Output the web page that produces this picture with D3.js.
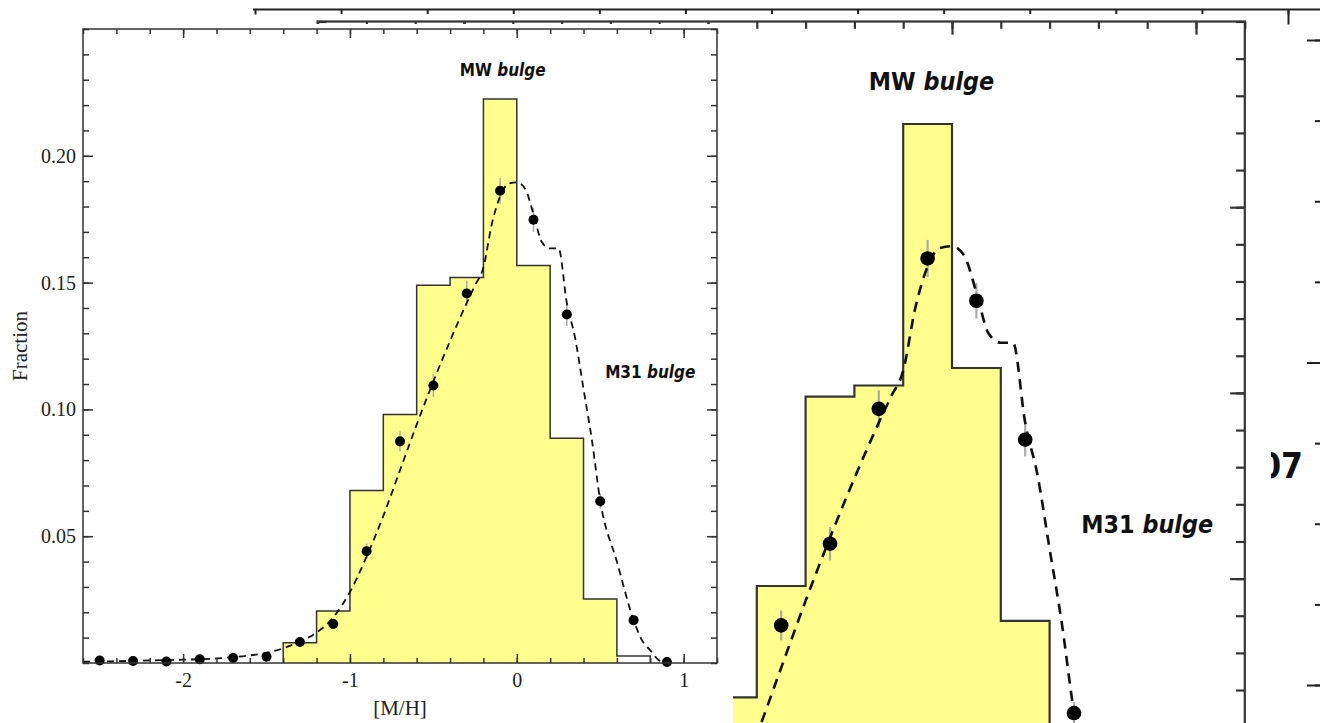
<!DOCTYPE html>
<html><head><meta charset="utf-8">
<script src="https://cdn.jsdelivr.net/npm/d3@7/dist/d3.min.js"></script>
<style>
html,body{margin:0;padding:0;background:#fff;}
svg{display:block;}
.tick text{font-family:"Liberation Serif","Times New Roman",serif;fill:#222;}
</style></head>
<body>
<svg id="chart" width="1320" height="723"></svg>
<script>
// ---------------- data ----------------
const binStarts    = [-1.4, -1.2, -1.0, -0.8, -0.6, -0.4, -0.2, 0.0, 0.2, 0.4, 0.6];
const binFractions = [0.008, 0.0205, 0.068, 0.098, 0.149, 0.152, 0.2224, 0.1567, 0.0886, 0.0252, 0.0028];
const binWidth = 0.2;

const pointMH       = [-2.5, -2.3, -2.1, -1.9, -1.7, -1.5, -1.3, -1.1, -0.9, -0.7, -0.5, -0.3, -0.1, 0.1, 0.3, 0.5, 0.7, 0.9];
const pointFraction = [0.001, 0.0008, 0.0006, 0.0015, 0.002, 0.0025, 0.0083, 0.0154, 0.0441, 0.0874, 0.1094, 0.1457, 0.1862, 0.1748, 0.1374, 0.0638, 0.0169, 0.0004];
const pointError    = [0.0005, 0.0005, 0.0005, 0.001, 0.001, 0.001, 0.0015, 0.002, 0.003, 0.004, 0.0045, 0.005, 0.005, 0.0048, 0.0045, 0.003, 0.002, 0.001];

const modelMH       = [-2.6, -2.4, -2.2, -2.0, -1.8, -1.6, -1.5, -1.4, -1.3, -1.2, -1.1, -1.0, -0.9, -0.8, -0.7, -0.6, -0.5, -0.4, -0.3, -0.25, -0.2, -0.15, -0.1, -0.05, 0.0, 0.05, 0.1, 0.15, 0.2, 0.25, 0.3, 0.35, 0.4, 0.45, 0.5, 0.6, 0.7, 0.75, 0.8, 0.85, 0.9];
const modelFraction = [0.0005, 0.0007, 0.001, 0.0013, 0.0018, 0.003, 0.004, 0.0058, 0.0085, 0.012, 0.018, 0.028, 0.042, 0.058, 0.076, 0.094, 0.111, 0.127, 0.142, 0.149, 0.156, 0.173, 0.184, 0.189, 0.1895, 0.187, 0.177, 0.166, 0.1635, 0.1635, 0.142, 0.128, 0.108, 0.088, 0.064, 0.04, 0.017, 0.009, 0.005, 0.0012, 0.0];

const xMajorTicks  = [-2, -1, 0, 1];
const xTickLabels  = ["-2", "-1", "0", "1"];
const yMajorTicks  = [0.05, 0.10, 0.15, 0.20];
const yTickLabels  = ["0.05", "0.10", "0.15", "0.20"];
const xDomain = [-2.6, 1.2];
const yDomain = [0, 0.25];

const labelMW  = "MW bulge";
const labelM31 = "M31 bulge";
const xTitle = "[M/H]";
const yTitle = "Fraction";
const ghostText = "07";

// ghost (partly hidden) panel behind
const ghostTopTicks   = [0,1,2,3,4,5,6,7,8,9,10,11,12];
const ghostTopMajor   = [12];
const ghostRightTicks = [0,1,2,3,4,5,6,7,8];
const ghostRightMajor = [0,4,8];

// --------------- drawing ---------------
const svg = d3.select("#chart");
const xMinor = d3.range(-2.6, 1.2001, 0.2).map(v => +v.toFixed(2));
const yMinor = d3.range(0, 0.2501, 0.01).map(v => +v.toFixed(3));

// ghost panel
{
  const gx = d3.scaleLinear().domain([0, 12]).range([255, 1288]);
  const gy = d3.scaleLinear().domain([0, 8]).range([40, 685]);
  const g = svg.append("g");
  g.append("line").attr("x1", 253).attr("x2", 1320).attr("y1", 9.5).attr("y2", 9.5)
    .attr("stroke", "#222").attr("stroke-width", 2);
  const top = g.append("g").attr("transform", "translate(0,9.5)")
    .call(d3.axisTop(gx).tickValues(ghostTopTicks).tickSize(-5).tickFormat(""));
  const topM = g.append("g").attr("transform", "translate(0,9.5)")
    .call(d3.axisTop(gx).tickValues(ghostTopMajor).tickSize(-15).tickFormat(""));
  const right = g.append("g").attr("transform", "translate(1321,0)")
    .call(d3.axisRight(gy).tickValues(ghostRightTicks).tickSize(-6).tickFormat(""));
  const rightM = g.append("g").attr("transform", "translate(1321,0)")
    .call(d3.axisRight(gy).tickValues(ghostRightMajor).tickSize(-14).tickFormat(""));
  [top, topM, right, rightM].forEach(a => {
    a.select(".domain").remove();
    a.selectAll(".tick line").attr("stroke", "#222").attr("stroke-width", 2);
  });
  g.append("text").attr("x", 1303).attr("y", 478).attr("text-anchor", "end")
    .attr("font-family", "DejaVu Sans Condensed, DejaVu Sans").attr("font-weight", "bold")
    .attr("font-size", 35).attr("fill", "#111").text(ghostText);
}

function drawPanel(x, y, k, withLabels) {
  const g = svg.append("g");
  const [x0, x1] = x.range();
  const [y0, y1] = y.range(); // y0 bottom, y1 top
  const sw = 1.5 * k;

  // histogram step outline points
  const steps = [[binStarts[0], 0]];
  binStarts.forEach((b, i) => { steps.push([b, binFractions[i]]); steps.push([b + binWidth, binFractions[i]]); });
  steps.push([binStarts[binStarts.length - 1] + binWidth, 0]);

  // fill (all but the last, unfilled bin) as one shape
  const fillSteps = [[binStarts[0], 0]];
  binStarts.slice(0, -1).forEach((b, i) => { fillSteps.push([b, binFractions[i]]); fillSteps.push([b + binWidth, binFractions[i]]); });
  fillSteps.push([binStarts[binStarts.length - 2] + binWidth, 0]);
  g.append("path").datum(fillSteps)
    .attr("d", d3.line().x(d => x(d[0])).y(d => y(d[1])))
    .attr("fill", "#ffff8e").attr("stroke", "none");

  g.append("path").datum(steps)
    .attr("d", d3.line().x(d => x(d[0])).y(d => y(d[1])))
    .attr("fill", "none").attr("stroke", "#333").attr("stroke-width", sw);

  // error bars
  g.selectAll("line.err").data(pointMH).enter().append("line")
    .attr("x1", d => x(d)).attr("x2", d => x(d))
    .attr("y1", (d, i) => y(pointFraction[i] - pointError[i]))
    .attr("y2", (d, i) => y(pointFraction[i] + pointError[i]))
    .attr("stroke", "#aaa").attr("stroke-width", 1.5 * k);

  // model curve
  g.append("path").datum(modelMH.map((m, i) => [m, modelFraction[i]]))
    .attr("d", d3.line().x(d => x(d[0])).y(d => y(d[1])).curve(d3.curveMonotoneX))
    .attr("fill", "none").attr("stroke", "#111").attr("stroke-width", 1.8 * k)
    .attr("stroke-dasharray", `${7 * k},${5 * k}`);

  // dots
  g.selectAll("circle.pt").data(pointMH).enter().append("circle")
    .attr("cx", d => x(d)).attr("cy", (d, i) => y(pointFraction[i]))
    .attr("r", 5 * k).attr("fill", "#000");

  // axes
  const major = 9 * k, minor = 5 * k;
  const axes = [];
  const fs = 20 * k;
  axes.push(g.append("g").attr("transform", `translate(0,${y0})`)
    .call(d3.axisBottom(x).tickValues(xMinor).tickSize(-minor).tickFormat("")));
  axes.push(g.append("g").attr("transform", `translate(0,${y0})`)
    .call(d3.axisBottom(x).tickValues(xMajorTicks).tickSize(-major).tickPadding(10 * k)
      .tickFormat((d, i) => withLabels ? xTickLabels[i] : "")));
  axes.push(g.append("g").attr("transform", `translate(0,${y1})`)
    .call(d3.axisTop(x).tickValues(xMinor).tickSize(-minor).tickFormat("")));
  axes.push(g.append("g").attr("transform", `translate(0,${y1})`)
    .call(d3.axisTop(x).tickValues(xMajorTicks).tickSize(-major).tickFormat("")));
  axes.push(g.append("g").attr("transform", `translate(${x0},0)`)
    .call(d3.axisLeft(y).tickValues(yMinor).tickSize(-minor - 1 * k).tickFormat("")));
  axes.push(g.append("g").attr("transform", `translate(${x0},0)`)
    .call(d3.axisLeft(y).tickValues(yMajorTicks).tickSize(-major - 1 * k).tickPadding(7 * k)
      .tickFormat((d, i) => withLabels ? yTickLabels[i] : "")));
  axes.push(g.append("g").attr("transform", `translate(${x1},0)`)
    .call(d3.axisRight(y).tickValues(yMinor).tickSize(-minor - 1 * k).tickFormat("")));
  axes.push(g.append("g").attr("transform", `translate(${x1},0)`)
    .call(d3.axisRight(y).tickValues(yMajorTicks).tickSize(-major - 1 * k).tickFormat("")));
  axes.forEach(a => {
    a.select(".domain").remove();
    a.selectAll(".tick line").attr("stroke", "#333").attr("stroke-width", sw);
    a.selectAll(".tick text").attr("font-size", fs).attr("fill", "#222");
  });

  // frame
  g.append("rect").attr("x", x0).attr("y", y1).attr("width", x1 - x0).attr("height", y0 - y1)
    .attr("fill", "none").attr("stroke", "#333").attr("stroke-width", sw);

  // annotations
  const lfs = 17 * k;
  const addLabel = (txt, mx, fy) => {
    const t = g.append("text").attr("x", x(mx)).attr("y", y(fy)).attr("text-anchor", "middle")
      .attr("font-family", "DejaVu Sans Condensed, DejaVu Sans").attr("font-weight", "bold")
      .attr("font-size", lfs).attr("fill", "#111");
    const parts = txt.split(" ");
    t.append("tspan").text(parts[0] + " ");
    t.append("tspan").attr("font-style", "italic").text(parts[1]);
  };
  addLabel(labelMW, -0.084, 0.2315);
  addLabel(labelM31, 0.80, 0.1122);

  if (withLabels) {
    g.append("text").attr("x", (x0 + x1) / 2).attr("y", y0 + 52)
      .attr("text-anchor", "middle").attr("font-family", "Liberation Serif, serif")
      .attr("font-size", 21).attr("fill", "#222").text(xTitle);
    g.append("text").attr("transform", `translate(27,${(y0 + y1) / 2}) rotate(-90)`)
      .attr("text-anchor", "middle").attr("font-family", "Liberation Serif, serif")
      .attr("font-size", 21).attr("fill", "#222").text(yTitle);
  }
}

// right (enlarged) image background
svg.append("rect").attr("x", 300).attr("y", 14).attr("width", 971).attr("height", 709).attr("fill", "#fff");
const kR = 1.462;
const xR = d3.scaleLinear().domain(xDomain).range([952 + xDomain[0] * 244, 952 + xDomain[1] * 244]);
const yR = d3.scaleLinear().domain(yDomain).range([950, 950 - yDomain[1] * 3714]);
drawPanel(xR, yR, kR, false);

// left image background
svg.append("rect").attr("x", 0).attr("y", 24).attr("width", 733).attr("height", 699).attr("fill", "#fff");
const xL = d3.scaleLinear().domain(xDomain).range([83, 717]);
const yL = d3.scaleLinear().domain(yDomain).range([663, 29]);
drawPanel(xL, yL, 1, true);
</script>
</body></html>
